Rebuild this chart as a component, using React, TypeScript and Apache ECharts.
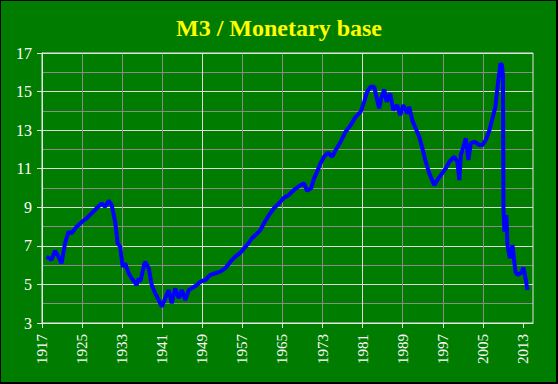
import React, { useEffect, useRef } from "react";
import * as echarts from "echarts";

const titleText = "M3 / Monetary base";

const years = [
  1917.9, 1918.9, 1919.6, 1920.3, 1920.9, 1921.6, 1922.3, 1922.9, 1923.9, 1925.0,
  1925.9, 1926.9, 1927.9, 1928.9, 1929.6, 1930.3, 1930.9, 1931.6, 1932.1, 1932.6,
  1933.1, 1933.6, 1934.3, 1934.9, 1935.9, 1936.3, 1936.6, 1937.3, 1937.6, 1938.3,
  1938.9, 1939.6, 1940.3, 1940.9, 1941.6, 1942.3, 1942.9, 1943.6, 1944.3, 1944.9,
  1945.6, 1946.3, 1946.9, 1947.9, 1948.6, 1949.6, 1950.6, 1951.6, 1952.6, 1953.6,
  1954.6, 1955.6, 1956.6, 1957.9, 1958.9, 1959.6, 1960.6, 1961.3, 1962.3, 1963.3,
  1964.3, 1965.3, 1966.3, 1967.3, 1968.3, 1969.3, 1969.9, 1970.7, 1971.3, 1971.9,
  1972.6, 1973.3, 1974.1, 1974.9, 1975.8, 1976.6, 1977.6, 1978.6, 1979.6, 1980.6,
  1981.3, 1981.9, 1982.6, 1983.3, 1983.6, 1984.3, 1984.7, 1985.3, 1985.8, 1986.5,
  1987.1, 1987.9, 1988.5, 1989.1, 1989.9, 1990.3, 1990.9, 1991.6, 1992.3, 1992.9,
  1993.6, 1994.3, 1995.3, 1995.9, 1996.6, 1997.6, 1998.3, 1999.3, 1999.9, 2000.3,
  2000.6, 2001.3, 2001.6, 2002.1, 2002.6, 2003.3, 2004.3, 2004.9, 2005.6, 2006.3,
  2006.9, 2007.5, 2007.9, 2008.3, 2008.5, 2008.8, 2009.0, 2009.1, 2009.3, 2009.7,
  2009.9, 2010.4, 2010.9, 2011.5, 2011.9, 2012.6, 2013.1, 2013.5, 2013.9,
];

const values = [
  6.44, 6.27, 6.75, 6.44, 6.09, 7.13, 7.73, 7.65, 7.99, 8.25,
  8.42, 8.69, 8.95, 9.2, 9.03, 9.34, 9.12, 8.25, 7.13, 6.96,
  5.92, 6.09, 5.58, 5.32, 4.97, 5.32, 5.14, 5.92, 6.18, 5.84,
  4.97, 4.54, 4.19, 3.85, 4.28, 4.71, 4.02, 4.8, 4.28, 4.71,
  4.19, 4.71, 4.8, 4.97, 5.14, 5.23, 5.49, 5.58, 5.66, 5.84,
  6.18, 6.44, 6.65, 7.04, 7.39, 7.56, 7.82, 8.17, 8.6, 8.95,
  9.2, 9.5, 9.64, 9.9, 10.1, 10.24, 9.86, 9.98, 10.5, 10.84,
  11.28, 11.62, 11.83, 11.62, 12.05, 12.4, 12.92, 13.26, 13.69, 13.95,
  14.47, 14.99, 15.25, 15.25, 14.9, 14.13, 14.65, 15.11, 14.47, 14.9,
  14.04, 14.3, 13.78, 14.3, 13.87, 14.21, 13.52, 13.09, 12.66, 12.06,
  11.36, 10.76, 10.15, 10.41, 10.67, 11.02, 11.36, 11.62, 11.36, 10.41,
  11.71, 12.32, 12.57, 11.45, 12.32, 12.4, 12.23, 12.23, 12.49, 13.0,
  13.61, 14.21, 15.17, 16.03, 16.46, 16.37, 15.86, 8.95, 7.73, 8.6,
  7.04, 6.35, 7.04, 5.66, 5.49, 5.6, 5.87, 5.32, 4.71,
];

const xLabelYears = [1917, 1925, 1933, 1941, 1949, 1957, 1965, 1973, 1981, 1989, 1997, 2005, 2013];
const yTickValues = [3, 5, 7, 9, 11, 13, 15, 17];

const X_MIN = 1917;
const X_MAX = 2015;
const Y_MIN = 3;
const Y_MAX = 17;

export default function App() {
  const ref = useRef<HTMLDivElement>(null);

  useEffect(() => {
    document.body.style.margin = "0";
    const chart = echarts.init(ref.current!, null, { renderer: "svg" });
    const data = years.map((y, i) => [y, values[i]]);
    const fontFamily = '"Liberation Serif", "Times New Roman", serif';
    chart.setOption({
      animation: false,
      backgroundColor: "#007c00",
      title: {
        text: titleText,
        left: "center",
        top: 11,
        textStyle: {
          color: "#ffff00",
          fontFamily,
          fontWeight: "bold",
          fontSize: 24,
        },
      },
      graphic: [
        {
          type: "rect",
          shape: { x: 0, y: 0, width: 557, height: 383 },
          style: { fill: null, stroke: "#000000", lineWidth: 2 },
          z: 100,
        },
      ],
      grid: {
        left: 42,
        right: 25,
        top: 53,
        bottom: 61,
        show: true,
        borderColor: "#e6e6e6",
        borderWidth: 1,
        backgroundColor: "transparent",
        z: 3,
      },
      xAxis: {
        type: "value",
        min: X_MIN,
        max: X_MAX,
        interval: 2,
        axisLine: { show: true, lineStyle: { color: "#e6e6e6", width: 1 } },
        axisTick: {
          show: true,
          length: 5,
          customValues: xLabelYears,
          lineStyle: { color: "#e6e6e6" },
        },
        axisLabel: {
          show: true,
          rotate: 90,
          margin: 11,
          color: "#ffffff",
          fontFamily,
          fontSize: 15,
          customValues: xLabelYears,
          formatter: (v: number) => String(Math.round(v)),
        },
        splitLine: {
          show: true,
          showMaxLine: false,
          lineStyle: {
            color: ["#dcdcdc", "#8c8c8c", "#8c8c8c", "#8c8c8c"],
            width: 1,
          },
        },
      },
      yAxis: {
        type: "value",
        min: Y_MIN,
        max: Y_MAX,
        interval: 2,
        axisLine: { show: true, lineStyle: { color: "#e6e6e6", width: 1 } },
        axisTick: { show: true, length: 5, lineStyle: { color: "#e6e6e6" } },
        axisLabel: {
          show: true,
          margin: 10,
          color: "#ffffff",
          fontFamily,
          fontSize: 16,
          customValues: yTickValues,
        },
        splitLine: { show: true, lineStyle: { color: "#dcdcdc", width: 1 } },
        minorTick: { show: false, splitNumber: 2 },
        minorSplitLine: { show: true, lineStyle: { color: "#8c8c8c", width: 1 } },
      },
      series: [
        {
          type: "line",
          data,
          showSymbol: false,
          symbol: "none",
          lineStyle: { color: "#0000ff", width: 4 },
          z: 5,
        },
      ],
    });
    return () => chart.dispose();
  }, []);

  return <div ref={ref} style={{ width: 558, height: 384 }} />;
}
